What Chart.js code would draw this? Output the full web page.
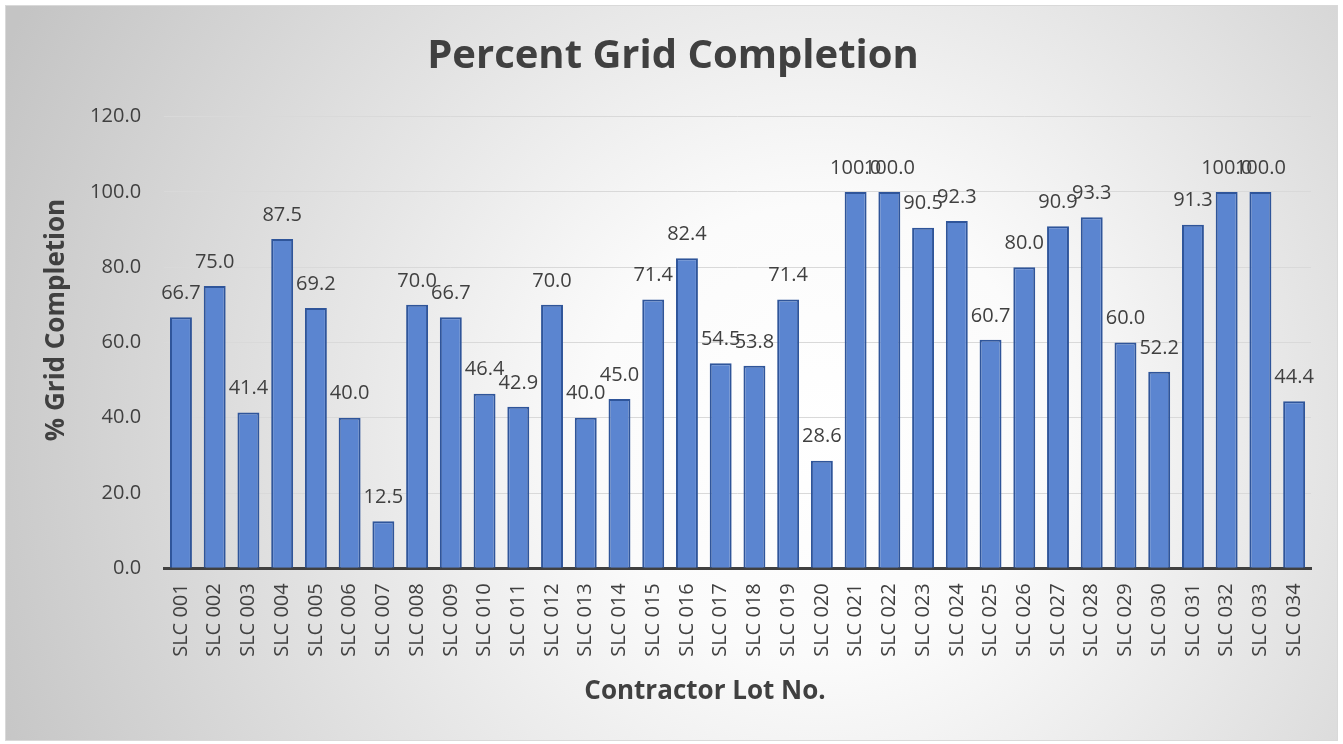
<!DOCTYPE html>
<html>
<head>
<meta charset="utf-8">
<script src="https://cdn.jsdelivr.net/npm/chart.js@4.4.1/dist/chart.umd.min.js"></script>
<style>
html,body{margin:0;padding:0;background:#fff;}
canvas{display:block;}
</style>
</head>
<body>
<canvas id="c" width="1343" height="744"></canvas>
<script>
const categories = ["SLC 001","SLC 002","SLC 003","SLC 004","SLC 005","SLC 006","SLC 007","SLC 008","SLC 009","SLC 010","SLC 011","SLC 012","SLC 013","SLC 014","SLC 015","SLC 016","SLC 017","SLC 018","SLC 019","SLC 020","SLC 021","SLC 022","SLC 023","SLC 024","SLC 025","SLC 026","SLC 027","SLC 028","SLC 029","SLC 030","SLC 031","SLC 032","SLC 033","SLC 034"];
const completion = [66.7,75.0,41.4,87.5,69.2,40.0,12.5,70.0,66.7,46.4,42.9,70.0,40.0,45.0,71.4,82.4,54.5,53.8,71.4,28.6,100.0,100.0,90.5,92.3,60.7,80.0,90.9,93.3,60.0,52.2,91.3,100.0,100.0,44.4];
const yTicks = [0,20,40,60,80,100,120];
const chartTitle = "Percent Grid Completion";
const xTitle = "Contractor Lot No.";
const yTitle = "% Grid Completion";

const FONT = "'Open Sans', 'DejaVu Sans', sans-serif";
const TEXT = '#404040';

const bgPlugin = {
  id: 'bg',
  beforeDraw(chart) {
    const ctx = chart.ctx, W = chart.width, H = chart.height;
    ctx.save();
    ctx.fillStyle = '#ffffff';
    ctx.fillRect(0, 0, W, H);
    const g = ctx.createRadialGradient(820, 430, 0, 820, 430, 900);
    g.addColorStop(0, '#ffffff');
    g.addColorStop(0.25, '#fbfbfb');
    g.addColorStop(1, '#c4c4c4');
    ctx.fillStyle = g;
    ctx.fillRect(5, 5, W - 10, H - 8);
    ctx.strokeStyle = '#d9d9d9';
    ctx.lineWidth = 1;
    ctx.strokeRect(5.5, 5.5, W - 11, H - 9);
    ctx.restore();
  }
};

const labelPlugin = {
  id: 'labels',
  afterDatasetsDraw(chart) {
    const ctx = chart.ctx;
    const meta = chart.getDatasetMeta(0);
    ctx.save();
    ctx.font = "20px " + FONT;
    ctx.fillStyle = TEXT;
    ctx.textAlign = 'center';
    ctx.textBaseline = 'middle';
    meta.data.forEach((bar, i) => {
      ctx.fillText(completion[i].toFixed(1), bar.x, bar.y - 24);
    });
    // chart title
    ctx.font = "bold 40px " + FONT;
    ctx.fillText(chartTitle, 673, 57);
    // axis titles
    ctx.font = "bold 26px " + FONT;
    ctx.fillText(xTitle, 705, 692);
    ctx.translate(57, 320);
    ctx.rotate(-Math.PI / 2);
    ctx.fillText(yTitle, 0, 0);
    ctx.restore();
  }
};

new Chart(document.getElementById('c'), {
  type: 'bar',
  data: {
    labels: categories,
    datasets: [{
      data: completion,
      backgroundColor: '#5b85d0',
      borderColor: '#2f559a',
      borderWidth: 2,
      borderSkipped: 'bottom',
      barPercentage: 0.65,
      categoryPercentage: 1.0
    }]
  },
  options: {
    responsive: false,
    animation: false,
    devicePixelRatio: 1,
    layout: { padding: { left: 0, right: 32, top: 116.7, bottom: 0 } },
    plugins: {
      legend: { display: false },
      tooltip: { enabled: false },
      title: { display: false }
    },
    scales: {
      x: {
        grid: { display: false, drawTicks: false },
        border: { display: true, color: '#404040', width: 3 },
        ticks: {
          color: TEXT,
          font: { family: FONT, size: 20 },
          maxRotation: 90, minRotation: 90,
          padding: 15,
          autoSkip: false
        },
        afterFit(scale) { scale.height = 175.7; }
      },
      y: {
        min: 0, max: 120,
        afterBuildTicks(scale) { scale.ticks = yTicks.map(v => ({ value: v })); },
        grid: { color: '#d9d9d9', lineWidth: 1, drawTicks: false },
        border: { display: false },
        ticks: {
          color: TEXT,
          font: { family: FONT, size: 20 },
          padding: 23,
          callback: v => Number(v).toFixed(1)
        },
        afterFit(scale) { scale.width = 164.1; }
      }
    }
  },
  plugins: [bgPlugin, labelPlugin]
});
</script>
</body>
</html>
